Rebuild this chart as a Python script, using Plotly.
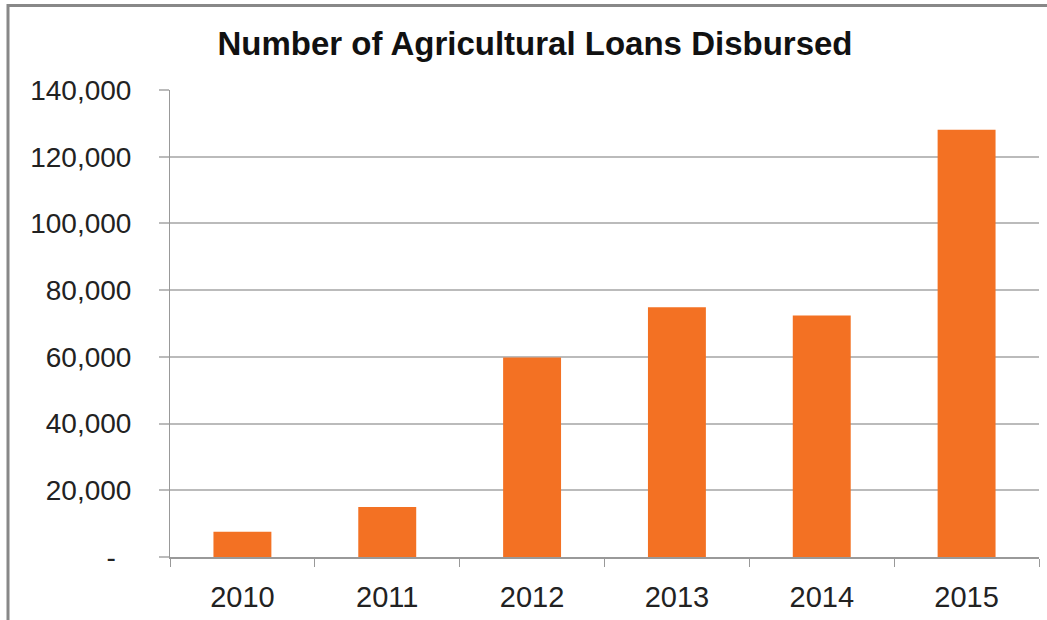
import plotly.graph_objects as go

years = ["2010", "2011", "2012", "2013", "2014", "2015"]
loans = [7600, 15000, 59800, 74900, 72400, 128100]
y_tickvals = [0, 20000, 40000, 60000, 80000, 100000, 120000, 140000]
y_ticktext = ["-\u00a0\u00a0", "20,000", "40,000", "60,000", "80,000", "100,000", "120,000", "140,000"]
title_text = "Number of Agricultural Loans Disbursed"

W, H = 1047, 620
L, R, T, B = 170, 8, 90, 63
pw = W - L - R
ph = H - T - B

fig = go.Figure(go.Bar(x=years, y=loans, marker=dict(color="#F37123", line=dict(width=0))))

fig.update_layout(
    width=W, height=H,
    margin=dict(l=L, r=R, t=T, b=B, autoexpand=False),
    paper_bgcolor="white", plot_bgcolor="white",
    bargap=0.6,
    showlegend=False,
    font=dict(family="Liberation Sans, Arial, sans-serif", color="#222222"),
    title=dict(text="<b>" + title_text + "</b>", x=535 / W, xref="container", xanchor="center",
               y=1 - 43 / H, yref="container", yanchor="middle",
               font=dict(size=33, color="#111111", family="Liberation Sans, Arial, sans-serif")),
)

fig.update_xaxes(
    type="category", tickson="boundaries", ticks="outside", ticklen=8, tickwidth=1,
    tickcolor="#999999", showline=True, linecolor="#999999", linewidth=2,
    showgrid=False, tickfont=dict(size=29, color="#222222"), ticklabelstandoff=13,
)
fig.update_yaxes(
    range=[0, 140000], tickvals=y_tickvals, ticktext=y_ticktext,
    ticks="outside", ticklen=10, tickwidth=2, tickcolor="#BBBBBB",
    showgrid=True, gridcolor="#BBBBBB", gridwidth=2,
    showline=True, linecolor="#999999", linewidth=1,
    zeroline=False, tickfont=dict(size=28, color="#222222"), ticklabelstandoff=22,
)

# outer frame (left and top edges)
fig.add_shape(type="line", xref="paper", yref="paper", layer="above",
              x0=(8 - L) / pw, x1=(8 - L) / pw, y0=(H - B - 4) / ph, y1=(H - B - 620) / ph,
              line=dict(color="#888888", width=3))
fig.add_shape(type="line", xref="paper", yref="paper", layer="above",
              x0=(7 - L) / pw, x1=(W - L) / pw, y0=(H - B - 5.5) / ph, y1=(H - B - 5.5) / ph,
              line=dict(color="#888888", width=3))

fig.write_html("out.html", config={"displayModeBar": False},
               post_script="document.body.style.margin='0';")
